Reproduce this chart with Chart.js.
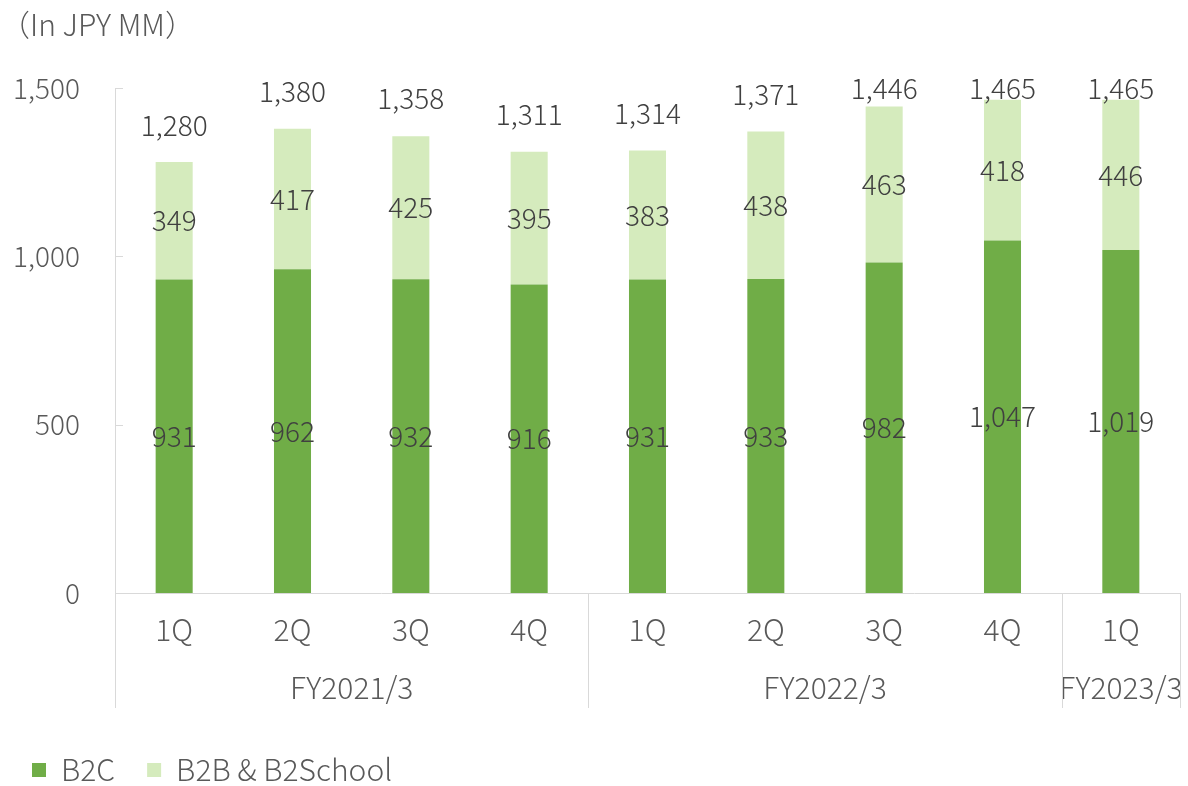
<!DOCTYPE html>
<html>
<head>
<meta charset="utf-8">
<script src="https://cdn.jsdelivr.net/npm/chart.js@4.4.0/dist/chart.umd.min.js"></script>
<style>
  html, body { margin: 0; padding: 0; background: #fff; }
  #wrap { width: 1188px; height: 786px; }
</style>
</head>
<body>
<div id="wrap"><canvas id="salesChart"></canvas></div>
<script>
// Quarterly sales by segment
const quarters = ['1Q', '2Q', '3Q', '4Q', '1Q', '2Q', '3Q', '4Q', '1Q'];
const fiscalYears = ['FY2021/3', 'FY2022/3', 'FY2023/3'];
const quartersPerYear = [4, 4, 1];
const b2c = [931, 962, 932, 916, 931, 933, 982, 1047, 1019];
const b2b = [349, 417, 425, 395, 383, 438, 463, 418, 446];
const totals = [1280, 1380, 1358, 1311, 1314, 1371, 1446, 1465, 1465];
const yTicks = [0, 500, 1000, 1500];

const FONT = '"Noto Sans CJK JP", "Noto Sans", sans-serif';
const AXIS_GREY = '#d9d9d9';
const TEXT_GREY = '#595959';
const LABEL_GREY = '#404040';

// value labels inside each segment plus the stack total above
const barLabels = {
    id: 'barLabels',
    afterDatasetsDraw(chart) {
        const ctx = chart.ctx;
        const yScale = chart.scales.y;
        ctx.save();
        ctx.font = '300 28px ' + FONT;
        ctx.fillStyle = LABEL_GREY;
        ctx.textAlign = 'center';
        ctx.textBaseline = 'middle';
        chart.data.datasets.forEach((ds, di) => {
            chart.getDatasetMeta(di).data.forEach((bar, i) => {
                const c = bar.getCenterPoint();
                ctx.fillText(ds.data[i].toLocaleString('en-US'), c.x, c.y);
            });
        });
        const topMeta = chart.getDatasetMeta(chart.data.datasets.length - 1);
        totals.forEach((t, i) => {
            const x = topMeta.data[i].x;
            const y = Math.max(yScale.getPixelForValue(t) - 37, chart.chartArea.top);
            ctx.fillText(t.toLocaleString('en-US'), x, y);
        });
        ctx.restore();
    }
};

// inner tick marks, fiscal-year dividers and year labels under the quarters
const axisExtras = {
    id: 'axisExtras',
    afterDraw(chart) {
        const ctx = chart.ctx;
        const xScale = chart.scales.x;
        const yScale = chart.scales.y;
        const area = chart.chartArea;
        const lineBottom = area.bottom + 115;
        ctx.save();
        ctx.strokeStyle = AXIS_GREY;
        ctx.lineWidth = 1;
        yTicks.forEach(v => {
            const y = Math.round(yScale.getPixelForValue(v)) + 0.5;
            ctx.beginPath();
            ctx.moveTo(area.left, y);
            ctx.lineTo(area.left + 8, y);
            ctx.stroke();
        });
        let start = 0;
        const edges = [start - 0.5];
        ctx.font = '300 30px ' + FONT;
        ctx.fillStyle = TEXT_GREY;
        ctx.textAlign = 'center';
        ctx.textBaseline = 'middle';
        fiscalYears.forEach((fy, g) => {
            const end = start + quartersPerYear[g] - 1;
            const cx = xScale.getPixelForValue((start + end) / 2);
            ctx.fillText(fy, cx, area.bottom + 95);
            edges.push(end + 0.5);
            start = end + 1;
        });
        edges.forEach(e => {
            const x = Math.round(xScale.getPixelForValue(e)) + 0.5;
            ctx.beginPath();
            ctx.moveTo(x, area.bottom);
            ctx.lineTo(x, lineBottom);
            ctx.stroke();
        });
        ctx.restore();
    }
};

const ctx = document.getElementById('salesChart').getContext('2d');
new Chart(ctx, {
    type: 'bar',
    data: {
        labels: quarters,
        datasets: [{
            label: 'B2C',
            data: b2c,
            backgroundColor: '#70ad47',
            barPercentage: 0.313,
            categoryPercentage: 1
        }, {
            label: 'B2B & B2School',
            data: b2b,
            backgroundColor: '#d5ebbd',
            barPercentage: 0.313,
            categoryPercentage: 1
        }]
    },
    options: {
        responsive: true,
        maintainAspectRatio: false,
        animation: false,
        locale: 'en-US',
        layout: { padding: { left: 0, right: 8, top: 0, bottom: -9 } },
        plugins: {
            title: {
                display: true,
                text: '（In JPY MM）',
                align: 'start',
                color: TEXT_GREY,
                font: { family: FONT, size: 30, weight: '300' },
                padding: { top: 7, bottom: 45 }
            },
            legend: {
                position: 'bottom',
                align: 'start',
                labels: {
                    color: TEXT_GREY,
                    font: { family: FONT, size: 30, weight: '300' },
                    boxWidth: 14,
                    boxHeight: 14,
                    padding: 32
                }
            },
            tooltip: { enabled: false }
        },
        scales: {
            x: {
                stacked: true,
                grid: { display: false, drawTicks: false },
                border: { display: true, color: AXIS_GREY },
                ticks: {
                    color: TEXT_GREY,
                    font: { family: FONT, size: 30, weight: '300' },
                    padding: 19,
                    maxRotation: 0,
                    autoSkip: false
                },
                afterFit(scale) { scale.height = 130; }
            },
            y: {
                stacked: true,
                min: 0,
                max: 1500,
                grid: { display: false, drawTicks: false },
                border: { display: true, color: AXIS_GREY },
                ticks: {
                    stepSize: 500,
                    color: TEXT_GREY,
                    font: { family: FONT, size: 28, weight: '300' },
                    padding: 35
                },
                afterFit(scale) { scale.width = 115; }
            }
        }
    },
    plugins: [barLabels, axisExtras]
});
</script>
</body>
</html>
